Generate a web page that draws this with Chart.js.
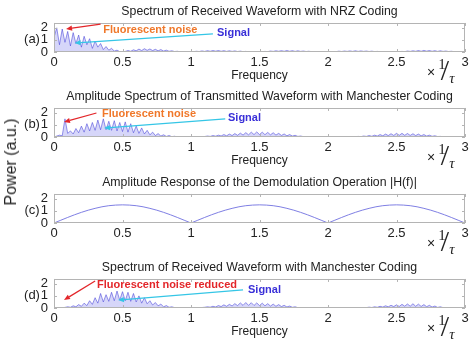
<!DOCTYPE html>
<html><head><meta charset="utf-8">
<script src="https://cdn.jsdelivr.net/npm/chart.js@4.4.1/dist/chart.umd.min.js"></script>
<style>
html,body{margin:0;padding:0;background:#fff;}
#wrap{position:relative;width:474px;height:348px;overflow:hidden;background:#fff;}
.panel{position:absolute;left:0;width:474px;height:85px;}
#ylab{position:absolute;left:11px;top:162px;transform:translate(-50%,-50%) rotate(-90deg);font:16px "Liberation Sans",Arial,sans-serif;color:#222;white-space:nowrap;}
</style></head><body>
<div id="wrap">
<div class="panel" style="top:0px"><canvas id="cA"></canvas></div>
<div class="panel" style="top:85px"><canvas id="cB"></canvas></div>
<div class="panel" style="top:171px"><canvas id="cC"></canvas></div>
<div class="panel" style="top:256px"><canvas id="cD"></canvas></div>
<div id="ylab">Power (a.u.)</div>
</div>
<script>
// ---- data ----
const spectrumStep = 0.02;   // frequency spacing of spectrum samples (x 1/tau)
const responseStep = 0.05;   // frequency spacing of |H(f)| samples

// (a) received waveform, NRZ coding
const spectrumNRZ = [
 1.2,2.0,0.6,1.9,0.8,1.7,0.5,1.6,0.7,1.4, 0.4,1.3,0.6,1.1,0.3,0.9,0.4,0.7,0.2,0.45,
 0.15,0.3,0.08,0.15,0.03,0.01,0.05,0.12,0.06,0.18, 0.1,0.24,0.12,0.27,0.14,0.25,0.12,0.22,0.1,0.2,
 0.08,0.15,0.06,0.1,0.04,0.06,0.02,0.03,0.01,0.01, 0.0,
 0.03,0.06,0.04,0.09,0.05,0.11,0.06,0.12,0.07,0.12,0.06,0.11,0.05,0.1,0.05,0.09,0.04,0.07,0.03,0.05,0.02,0.03,0.01,0.01,
 0.0,
 0.02,0.05,0.03,0.08,0.05,0.1,0.06,0.11,0.06,0.12,0.06,0.11,0.05,0.1,0.05,0.08,0.04,0.06,0.03,0.04,0.02,0.03,0.01,0.01,
 0.0,
 0.02,0.04,0.03,0.07,0.04,0.08,0.05,0.09,0.05,0.1,0.05,0.09,0.05,0.08,0.04,0.07,0.03,0.05,0.02,0.04,0.02,0.02,0.01,0.01,
 0.0,
 0.02,0.05,0.03,0.08,0.05,0.1,0.06,0.12,0.06,0.13,0.07,0.12,0.06,0.11,0.05,0.1,0.05,0.08,0.04,0.06,0.03,0.04,0.02,0.01,
 0.0
];

// (b) transmitted waveform, Manchester coding (with fluorescent noise line)
const spectrumManTx = [
 0.0,0.08,0.15,0.1,1.5,0.3,0.5,0.25,0.7,0.35, 0.9,0.4,1.1,0.5,1.2,0.55,1.4,0.6,1.5,0.6,
 1.3,0.55,1.35,0.5,1.2,0.45,1.25,0.4,1.1,0.35, 0.9,0.3,0.75,0.25,0.55,0.18,0.4,0.12,0.28,0.08,
 0.18,0.05,0.12,0.03,0.06,0.01,0.0,0.0,0.0,0.0, 0.0,
 0.0,0.0,0.0,0.02,0.04,
 0.08,0.05,0.12,0.07,0.15,0.09,0.2,0.1,0.24,0.12, 0.28,0.14,0.32,0.16,0.36,0.18,0.4,0.2,0.42,0.2,
 0.4,0.19,0.38,0.18,0.35,0.16,0.3,0.13,0.25,0.1, 0.2,0.08,0.14,0.05,0.08,0.03,0.02,
 0,0,0,0,0,0,0,0,0,0,0,0,0,0,0,0,0,
 0.02,0.05,0.03,0.08,0.05,0.12,0.06,0.15,0.08,0.2, 0.1,0.24,0.12,0.27,0.13,0.3,0.14,0.3,0.14,0.29,
 0.13,0.27,0.12,0.24,0.1,0.2,0.08,0.15,0.06,0.1, 0.04,0.05,0.02,
 0,0,0,0,0,0,0,0
];

// (c) amplitude response |H(f)| of the demodulation operation
const responseH = [
 0,0.23,0.46,0.68,0.88,1.06,1.21,1.34,1.43,1.48,1.5,1.48,1.43,1.34,1.21,1.06,0.88,0.68,0.46,0.23,
 0,0.23,0.46,0.68,0.88,1.06,1.21,1.34,1.43,1.48,1.5,1.48,1.43,1.34,1.21,1.06,0.88,0.68,0.46,0.23,
 0,0.23,0.46,0.68,0.88,1.06,1.21,1.34,1.43,1.48,1.5,1.48,1.43,1.34,1.21,1.06,0.88,0.68,0.46,0.23,
 0
];

// (d) received waveform, Manchester coding
const spectrumManRx = [
 0,0,0,0.02,0.05,0.1,0.06,0.18,0.1,0.28, 0.14,0.4,0.2,0.6,0.3,0.85,0.4,1.2,0.5,1.1,
 0.55,1.3,0.6,1.4,0.65,1.35,0.6,1.3,0.55,1.2, 0.5,1.0,0.4,0.85,0.35,0.6,0.25,0.45,0.18,0.32,
 0.1,0.2,0.06,0.1,0.03,0.02,0,0,0,0, 0,
 0,0,0.02,0.04,
 0.06,0.1,0.07,0.14,0.09,0.2,0.12,0.26,0.14,0.3, 0.17,0.36,0.2,0.42,0.22,0.45,0.22,0.44,0.21,0.42,
 0.2,0.4,0.18,0.36,0.16,0.32,0.14,0.28,0.12,0.22, 0.09,0.16,0.06,0.1,0.03,0.02,
 0,0,0,0,0,0,0,0,0,0,0,0,0,0,0,0,0,0,0,0,0,
 0.02,0.04,0.03,0.07,0.04,0.1,0.06,0.14,0.08,0.18, 0.1,0.22,0.12,0.26,0.13,0.3,0.15,0.33,0.15,0.35,
 0.14,0.32,0.13,0.28,0.11,0.22,0.08,0.16,0.05,0.1, 0.03,0.02,
 0,0,0,0,0,0,0
];

const panelTitles = [
 'Spectrum of Received Waveform with NRZ Coding',
 'Amplitude Spectrum of Transmitted Waveform with Manchester Coding',
 'Amplitude Response of the Demodulation Operation |H(f)|',
 'Spectrum of Received Waveform with Manchester Coding'
];
const panelLetters = ['(a)','(b)','(c)','(d)'];
const xAxisTitle = 'Frequency';
const yAxisTitle = 'Power (a.u.)';

// ---- drawing ----
const F = '"Liberation Sans", Arial, Helvetica, sans-serif';
const SERIF = '"Liberation Serif", "DejaVu Serif", serif';
const toPts = (arr, step) => arr.map((v, i) => ({x: +(i * step).toFixed(4), y: v}));

function arrow(ctx, x1, y1, x2, y2, color) {
  ctx.save();
  ctx.strokeStyle = color; ctx.fillStyle = color; ctx.lineWidth = 1.2;
  const ang = Math.atan2(y2 - y1, x2 - x1), L = 6, W = 2.6;
  const bx = x2 - L * Math.cos(ang), by = y2 - L * Math.sin(ang);
  ctx.beginPath(); ctx.moveTo(x1, y1); ctx.lineTo(bx, by); ctx.stroke();
  ctx.beginPath();
  ctx.moveTo(x2, y2);
  ctx.lineTo(bx + W * Math.sin(ang), by - W * Math.cos(ang));
  ctx.lineTo(bx - W * Math.sin(ang), by + W * Math.cos(ang));
  ctx.closePath(); ctx.fill();
  ctx.restore();
}

const decor = {
  id: 'decor',
  afterDatasetsDraw(chart, args, o) {
    const {ctx, chartArea: a, scales: {x, y}} = chart;
    ctx.save();
    // box
    ctx.strokeStyle = '#b4b4b4'; ctx.lineWidth = 1;
    ctx.strokeRect(Math.round(a.left) + 0.5, Math.round(a.top) + 0.5, Math.round(a.width) - 1, Math.round(a.height) - 1);
    ctx.beginPath();
    x.ticks.forEach(t => {
      const px = Math.round(x.getPixelForValue(t.value)) + 0.5;
      ctx.moveTo(px, a.bottom); ctx.lineTo(px, a.bottom - 3);
      ctx.moveTo(px, a.top); ctx.lineTo(px, a.top + 3);
    });
    y.ticks.forEach(t => {
      const py = Math.round(y.getPixelForValue(t.value)) + 0.5;
      ctx.moveTo(a.left, py); ctx.lineTo(a.left + 3, py);
      ctx.moveTo(a.right, py); ctx.lineTo(a.right - 3, py);
    });
    ctx.stroke();
    // panel letter
    ctx.fillStyle = '#222'; ctx.font = '13px ' + F;
    ctx.textAlign = 'center'; ctx.textBaseline = 'middle';
    ctx.fillText(o.letter, 32, y.getPixelForValue(1));
    const b = a.bottom;
    // x-axis title, centred under the plot box
    if (o.showFreq) {
      ctx.font = '12px ' + F;
      ctx.fillText(xAxisTitle, (a.left + a.right) / 2, b + 24);
    }
    // x 1/tau unit
    ctx.font = '14px ' + F; ctx.fillText('\u00d7', 431, b + 21);
    ctx.font = '15px ' + SERIF; ctx.fillText('1', 442, b + 13);
    ctx.font = '30px ' + SERIF; ctx.fillText('/', 445, b + 20);
    ctx.font = 'italic 15px ' + SERIF; ctx.fillText('\u03c4', 452, b + 27);
    // annotations
    (o.notes || []).forEach(n => {
      if (n.arrow) {
        arrow(ctx, x.getPixelForValue(n.arrow[0]), y.getPixelForValue(n.arrow[1]),
              x.getPixelForValue(n.arrow[2]), y.getPixelForValue(n.arrow[3]), n.arrowColor);
      }
      if (n.text) {
        ctx.font = 'bold 11px ' + F; ctx.fillStyle = n.color;
        ctx.textAlign = 'left'; ctx.textBaseline = 'middle';
        ctx.fillText(n.text, x.getPixelForValue(n.at[0]), y.getPixelForValue(n.at[1]));
      }
    });
    ctx.restore();
  }
};

function makePanel(id, idx, values, step, isCurve, showFreq, notes) {
  new Chart(document.getElementById(id), {
    type: 'line',
    data: {datasets: [{
      data: toPts(values, step),
      borderColor: isCurve ? 'rgba(120,120,225,0.95)' : 'rgba(60,55,215,0.75)',
      backgroundColor: 'rgba(120,120,235,0.3)',
      borderWidth: isCurve ? 1 : 0.7,
      fill: isCurve ? false : 'origin',
      pointRadius: 0, tension: 0
    }]},
    options: {
      responsive: true, maintainAspectRatio: false, animation: false,
      layout: {padding: {left: 0, right: 9, top: 0, bottom: 0}},
      plugins: {
        legend: {display: false}, tooltip: {enabled: false},
        title: {display: true, fullSize: false, text: panelTitles[idx], color: '#222',
                font: {size: 12.3, family: F, weight: 'normal'}, padding: {top: 4, bottom: 4.2}},
        decor: {letter: panelLetters[idx], notes: notes, showFreq: showFreq}
      },
      scales: {
        x: {type: 'linear', min: 0, max: 3,
            ticks: {stepSize: 0.5, color: '#222', font: {size: 13, family: F}, padding: 3, maxRotation: 0, autoSkip: false,
                    callback: v => String(Math.round(v * 10) / 10)},
            grid: {display: false, drawTicks: false}, border: {display: false},
            title: {display: false},
            afterFit(s) { s.height = 33; }},
        y: {min: 0, max: 2.4,
            ticks: {stepSize: 1, includeBounds: false, autoSkip: false, color: '#222', font: {size: 13, family: F}, padding: 6,
                    callback: v => String(Math.round(v))},
            grid: {display: false, drawTicks: false}, border: {display: false},
            afterFit(s) { s.width = 54; }}
      }
    },
    plugins: [decor]
  });
}

const RED = '#e3262a', ORANGE = '#f0782a', BLUE = '#3a30d8', CYAN = '#35c6e6';
makePanel('cA', 0, spectrumNRZ, spectrumStep, false, true, [
  {arrow: [0.34, 2.31, 0.088, 1.9], arrowColor: RED},
  {text: 'Fluorescent noise', color: ORANGE, at: [0.36, 1.82]},
  {arrow: [1.16, 1.49, 0.15, 0.74], arrowColor: CYAN},
  {text: 'Signal', color: BLUE, at: [1.19, 1.57]}
]);
makePanel('cB', 1, spectrumManTx, spectrumStep, false, true, [
  {arrow: [0.31, 1.98, 0.073, 1.24], arrowColor: RED},
  {text: 'Fluorescent noise', color: ORANGE, at: [0.35, 1.9]},
  {arrow: [1.25, 1.49, 0.365, 0.74], arrowColor: CYAN},
  {text: 'Signal', color: BLUE, at: [1.27, 1.57]}
]);
makePanel('cC', 2, responseH, responseStep, true, false, []);
makePanel('cD', 3, spectrumManRx, spectrumStep, false, true, [
  {arrow: [0.30, 2.23, 0.073, 0.66], arrowColor: RED},
  {text: 'Fluorescent noise reduced', color: RED, at: [0.314, 1.9]},
  {arrow: [1.38, 1.49, 0.467, 0.66], arrowColor: CYAN},
  {text: 'Signal', color: BLUE, at: [1.416, 1.49]}
]);
document.getElementById('ylab').textContent = yAxisTitle;
</script>
</body></html>
